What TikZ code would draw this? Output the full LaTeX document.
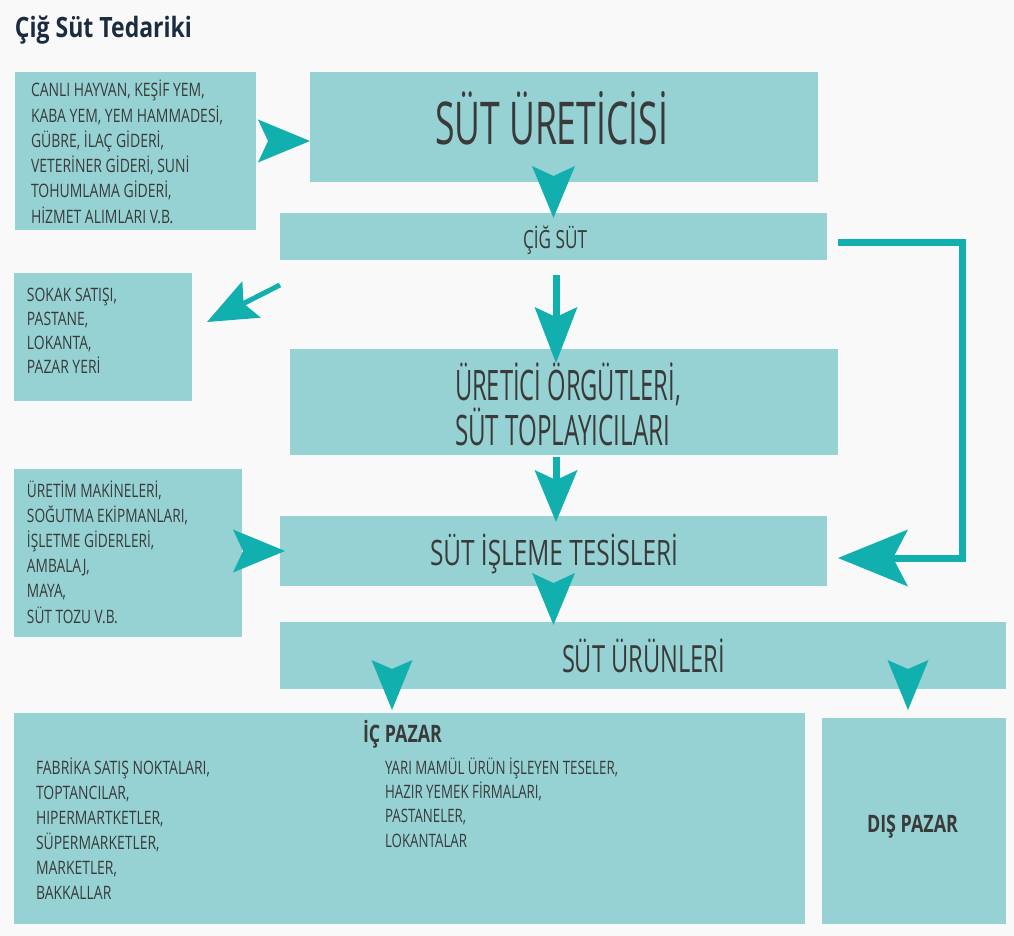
\documentclass[tikz,border=0pt]{standalone}
\usepackage{fontspec}
\setmainfont{Open Sans}
\usepackage{graphicx}
\usetikzlibrary{arrows.meta,calc}
\definecolor{bgc}{HTML}{F9F9F9}
\definecolor{boxc}{HTML}{96D2D3}
\definecolor{arrc}{HTML}{12AFAF}
\definecolor{txtc}{HTML}{3A3A3A}
\definecolor{titc}{HTML}{1C2C40}
\newcommand\sqz[2]{\resizebox{#1pt}{\height}{#2}}
\newcommand\mylines[3]{\fontsize{#1}{#2}\selectfont\begin{tabular}[t]{@{}l@{}}#3\end{tabular}}
\tikzset{
  box/.style={fill=boxc, draw=none, inner sep=0pt, outer sep=0pt, anchor=north west},
  txt/.style={inner sep=0pt, outer sep=0pt, text=txtc},
  tipM/.style={-{Stealth[length=52pt,width=43pt,inset=10pt,line width=0pt]}},
  tipO/.style={-{Stealth[length=56pt,width=43pt,inset=10pt,line width=0pt]}},
  tipS/.style={-{Stealth[length=50pt,width=41pt,inset=9pt,line width=0pt]}},
  tipL/.style={-{Stealth[length=70pt,width=57pt,inset=15pt,line width=0pt]}},
  headonly/.style={draw=arrc, line width=0.1pt},
  shaft/.style={draw=arrc, line width=7pt},
}
\begin{document}
\begin{tikzpicture}[x=1pt,y=-1pt]
\useasboundingbox (0,0) rectangle (1014,936);
\fill[bgc] (0,0) rectangle (1014,936);

% boxes
\node[box, minimum width=241pt, minimum height=158pt] (in1) at (15,72) {};
\node[box, minimum width=508pt, minimum height=110pt] (uret) at (310,72) {};
\node[box, minimum width=547pt, minimum height=47pt] (cig) at (280,213) {};
\node[box, minimum width=178pt, minimum height=128pt] (sokak) at (14,273) {};
\node[box, minimum width=548pt, minimum height=106pt] (orgut) at (290,349) {};
\node[box, minimum width=228pt, minimum height=168pt] (in2) at (14,469) {};
\node[box, minimum width=547pt, minimum height=70pt] (isleme) at (280,516) {};
\node[box, minimum width=726pt, minimum height=67pt] (urun) at (280,622) {};
\node[box, minimum width=791pt, minimum height=211pt] (ic) at (14,713) {};
\node[box, minimum width=184pt, minimum height=206pt] (dis) at (822,718) {};

% texts
\node[txt, anchor=base west, text=titc] (title) at (15,38)
  {\sqz{177}{\fontsize{28}{28}\selectfont\bfseries Çiğ Süt Tedariki}};
\node[txt, anchor=base] (t-uret) at (551.5,145)
  {\sqz{233}{\fontsize{59}{59}\selectfont SÜT ÜRETİCİSİ}};
\node[txt, anchor=base] (t-cig) at (555,248)
  {\sqz{64}{\fontsize{25}{25}\selectfont ÇİĞ SÜT}};
\node[txt, anchor=base west] (t-orgut1) at (455,400)
  {\sqz{226}{\fontsize{42}{42}\selectfont ÜRETİCİ ÖRGÜTLERİ,}};
\node[txt, anchor=base west] (t-orgut2) at (455,445)
  {\sqz{215}{\fontsize{42}{42}\selectfont SÜT TOPLAYICILARI}};
\node[txt, anchor=base] (t-isleme) at (554,565)
  {\sqz{248}{\fontsize{35}{35}\selectfont SÜT İŞLEME TESİSLERİ}};
\node[txt, anchor=base] (t-urun) at (643.5,672)
  {\sqz{163}{\fontsize{37.5}{37.5}\selectfont SÜT ÜRÜNLERİ}};
\node[txt, anchor=base] (t-dis) at (912.5,832)
  {\sqz{91}{\fontsize{24}{24}\selectfont\bfseries DIŞ PAZAR}};
\node[txt, anchor=base] (t-ic) at (402.5,742)
  {\sqz{79}{\fontsize{24}{24}\selectfont\bfseries İÇ PAZAR}};

\node[txt, anchor=base west] (t-in1) at (31,97)
  {\sqz{192}{\mylines{18.5}{25.2}{CANLI HAYVAN, KEŞİF YEM,\\KABA YEM, YEM HAMMADESİ,\\GÜBRE, İLAÇ GİDERİ,\\VETERİNER GİDERİ, SUNİ\\TOHUMLAMA GİDERİ,\\HİZMET ALIMLARI V.B.}}};
\node[txt, anchor=base west] (t-sokak) at (27,301)
  {\sqz{90}{\mylines{18.5}{24}{SOKAK SATIŞI,\\PASTANE,\\LOKANTA,\\PAZAR YERİ}}};
\node[txt, anchor=base west] (t-in2) at (27,497)
  {\sqz{161}{\mylines{18.5}{25.2}{ÜRETİM MAKİNELERİ,\\SOĞUTMA EKİPMANLARI,\\İŞLETME GİDERLERİ,\\AMBALAJ,\\MAYA,\\SÜT TOZU V.B.}}};
\node[txt, anchor=base west] (t-icl) at (36,774)
  {\sqz{174}{\mylines{18.5}{25}{FABRİKA SATIŞ NOKTALARI,\\TOPTANCILAR,\\HIPERMARTKETLER,\\SÜPERMARKETLER,\\MARKETLER,\\BAKKALLAR}}};
\node[txt, anchor=base west] (t-icr) at (385,774)
  {\sqz{233}{\mylines{18.5}{24.4}{YARI MAMÜL ÜRÜN İŞLEYEN TESELER,\\HAZIR YEMEK FİRMALARI,\\PASTANELER,\\LOKANTALAR}}};

% connectors
\draw[headonly,tipM] ($(in1.east)+(12,-10)$) -- ($(uret.west)+(0,14)$);
\draw[headonly,tipM] ($(uret.south -| cig.north)+(0,-6)$) -- ($(cig.north)+(0,5)$);
\draw[shaft,tipO] ($(cig.south)+(2.5,15)$) -- ($(orgut.north)+(-8,14)$);
\draw[draw=arrc, line width=5pt, tipS] ($(cig.south west)+(0,25)$) -- ($(sokak.east)+(15,-15)$);
\draw[shaft,tipM] ($(orgut.south)+(-8,2)$) -- ($(isleme.north)+(2.5,6)$);
\draw[headonly,tipM] ($(in2.east)+(1,-2)$) -- ($(isleme.west)+(5,0)$);
\draw[headonly,tipM] ($(isleme.south)+(0,-3)$) -- ($(urun.north -| isleme.south)+(0,3)$);
\draw[headonly,tipS] ($(urun.south -| ic.north)+(-17.5,-20)$) -- ($(ic.north)+(-17.5,-3)$);
\draw[headonly,tipS] ($(urun.south -| dis.north)+(-6,-20)$) -- ($(dis.north)+(-6,-8)$);
\draw[shaft,tipL,line join=miter] ($(cig.east)+(11,6)$) -- ++(124.5,0) |- ($(isleme.east)+(11,7)$);
\end{tikzpicture}
\end{document}
